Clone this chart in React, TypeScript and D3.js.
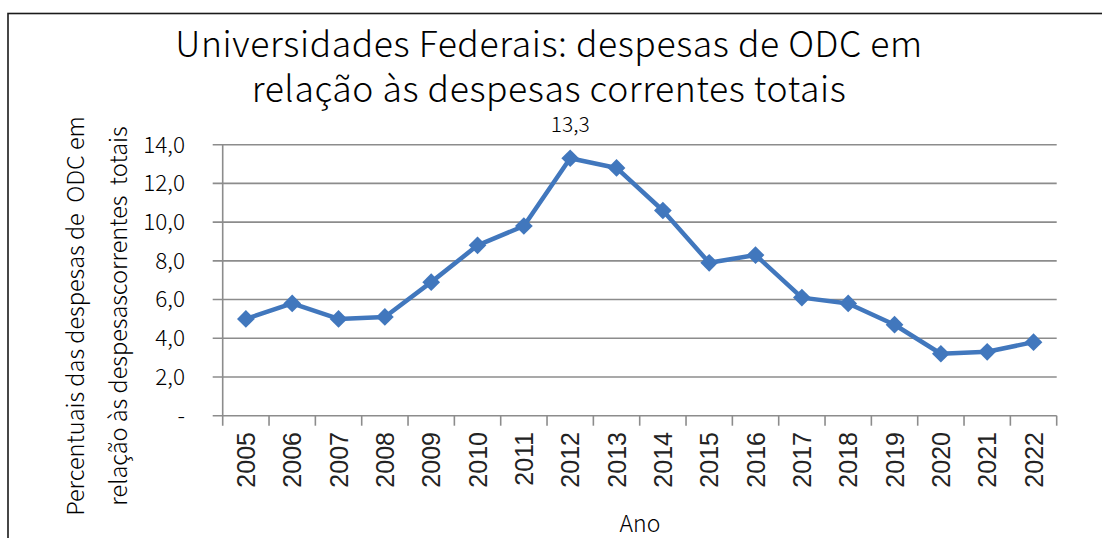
import React, { useEffect, useRef } from "react";
import * as d3 from "d3";

const years = ["2005","2006","2007","2008","2009","2010","2011","2012","2013","2014","2015","2016","2017","2018","2019","2020","2021","2022"];
const values = [5.0, 5.8, 5.0, 5.1, 6.9, 8.8, 9.8, 13.3, 12.8, 10.6, 7.9, 8.3, 6.1, 5.8, 4.7, 3.2, 3.3, 3.8];
const yTicks = [0, 2, 4, 6, 8, 10, 12, 14];
const titleLines = ["Universidades Federais: despesas de ODC em", "relação às despesas correntes totais"];
const yLabelLines = ["Percentuais das despesas de  ODC em", "relação às despesascorrentes  totais"];
const xLabel = "Ano";
const labeledYear = "2012";

const W = 1102, H = 538;
const FONT = "'Noto Sans CJK KR', 'Noto Sans', sans-serif";

export default function App() {
  const ref = useRef<SVGSVGElement>(null);
  useEffect(() => {
    const svg = d3.select(ref.current);
    svg.selectAll("*").remove();
    const left = 222.7, right = 1056.7, top = 144.7, bottom = 415.7;
    const x = d3.scaleBand().domain(years).range([left, right]);
    const y = d3.scaleLinear().domain([0, 14]).range([bottom, top]);

    svg.append("rect").attr("x", 0).attr("y", 0).attr("width", W).attr("height", H).attr("fill", "#fff");
    svg.append("rect").attr("x", 8).attr("y", 13.5).attr("width", W + 20).attr("height", H + 20)
      .attr("fill", "none").attr("stroke", "#1a1a1a").attr("stroke-width", 1.6);

    // title
    titleLines.forEach((t, i) => {
      svg.append("text").attr("x", 549).attr("y", 57 + i * 45).attr("text-anchor", "middle")
        .attr("font-family", FONT).attr("font-weight", 300).attr("font-size", 35.5)
        .attr("letter-spacing", 0.6).attr("fill", "#000").text(t);
    });

    // gridlines
    const grid = svg.append("g");
    yTicks.forEach((v) => {
      grid.append("line").attr("x1", left - 10).attr("x2", right).attr("y1", y(v)).attr("y2", y(v))
        .attr("stroke", "#8c8c8c").attr("stroke-width", 1.6);
      grid.append("text").attr("x", 185).attr("y", y(v)).attr("dy", "0.35em").attr("text-anchor", "end")
        .attr("font-family", FONT).attr("font-weight", 300).attr("font-size", 22.5).attr("fill", "#000")
        .text(v === 0 ? "-" : d3.format(".1f")(v).replace(".", ","));
    });
    // y axis line
    svg.append("line").attr("x1", left).attr("x2", left).attr("y1", top).attr("y2", bottom + 10)
      .attr("stroke", "#8c8c8c").attr("stroke-width", 1.6);
    // x ticks
    const xt = svg.append("g");
    years.forEach((yr) => {
      const xx = (x(yr) as number) + x.bandwidth();
      xt.append("line").attr("x1", xx).attr("x2", xx).attr("y1", bottom).attr("y2", bottom + 10)
        .attr("stroke", "#8c8c8c").attr("stroke-width", 1.6);
      const cx = (x(yr) as number) + x.bandwidth() / 2;
      xt.append("text").attr("transform", `translate(${cx + 9},${432}) rotate(-90)`)
        .attr("text-anchor", "end").attr("font-family", "'Liberation Sans', Arial, sans-serif")
        .attr("font-size", 25).attr("fill", "#222").text(yr);
    });

    // axis labels
    svg.append("text").attr("x", 640).attr("y", 532).attr("text-anchor", "middle")
      .attr("font-family", FONT).attr("font-weight", 300).attr("font-size", 23).attr("fill", "#000").text(xLabel);
    yLabelLines.forEach((t, i) => {
      svg.append("text").attr("transform", `translate(${84 + i * 43},316) rotate(-90)`)
        .attr("text-anchor", "middle").attr("font-family", FONT).attr("font-weight", 300)
        .attr("font-size", 23.5).attr("fill", "#000").attr("xml:space", "preserve").style("white-space", "pre").text(t);
    });

    // line
    const cxf = (i: number) => (x(years[i]) as number) + x.bandwidth() / 2;
    const line = d3.line<number>().x((d, i) => cxf(i)).y((d) => y(d));
    svg.append("path").datum(values).attr("d", line).attr("fill", "none")
      .attr("stroke", "#4177bd").attr("stroke-width", 4.5).attr("stroke-linejoin", "round");
    const sym = d3.symbol().type(d3.symbolDiamond2).size(200);
    svg.append("g").selectAll("path").data(values).join("path")
      .attr("d", sym as any)
      .attr("transform", (d, i) => `translate(${cxf(i)},${y(d)})`)
      .attr("fill", "#4177bd");
    // data label
    const li = years.indexOf(labeledYear);
    svg.append("text").attr("x", cxf(li)).attr("y", y(values[li]) - 26).attr("text-anchor", "middle")
      .attr("font-family", FONT).attr("font-weight", 300).attr("font-size", 21).attr("fill", "#000")
      .text(d3.format(".1f")(values[li]).replace(".", ","));
  }, []);
  return (
    <svg ref={ref} width={W} height={H} style={{ position: "absolute", left: 0, top: 0, display: "block" }} />
  );
}
